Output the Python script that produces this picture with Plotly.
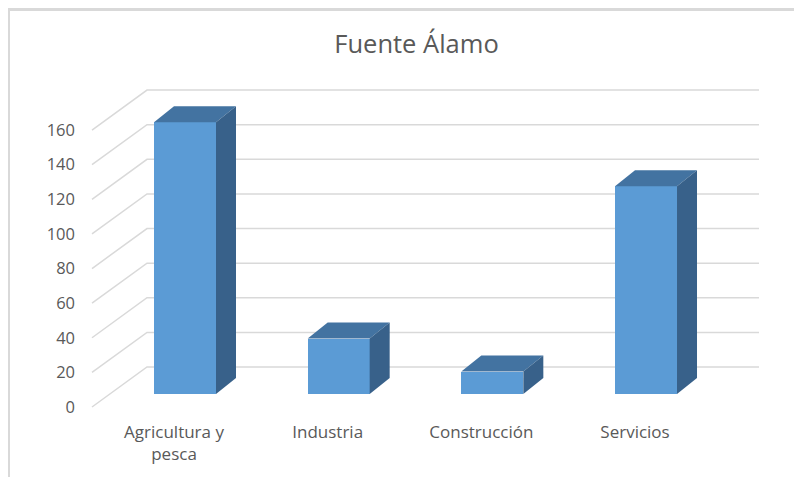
import plotly.graph_objects as go

# ---------------- data ----------------
categories = ["Agricultura y pesca", "Industria", "Construcción", "Servicios"]
category_tick_labels = ["Agricultura y<br>pesca", "Industria", "Construcción", "Servicios"]
values = [157, 32, 13, 120]
y_tick_values = [0, 20, 40, 60, 80, 100, 120, 140, 160]
title_text = "Fuente Álamo"

# ---------------- geometry (pixel calibration of the pseudo-3D look) ----------------
W, H = 802, 477
PAGE = 8                 # browser body margin offset
M_B = 68                 # bottom margin (room for category labels)
PX_X = 153.67            # pixels per category step
PX_Y = 1.731             # pixels per value unit
X0_PX = 185 - PAGE       # figure x of first bar centre (front face)
Y0_PX = 394 - PAGE       # figure y of value 0 on the bar front plane
BAR_W = 62 / PX_X        # front face width in category units
DEPTH_DX = 20 / PX_X     # bar depth, horizontal
DEPTH_DY = 16 / PX_Y     # bar depth, vertical
FLOOR_FRONT_DX = -18 / PX_X
FLOOR_FRONT_DY = -13 / PX_Y
WALL_DX = 37 / PX_X
WALL_DY = 27 / PX_Y
GRID_END_X = (759 - PAGE - X0_PX) / PX_X
GRID_START_X = (92 - PAGE - X0_PX) / PX_X
LABEL_DX = -11 / PX_X

x_range = [-X0_PX / PX_X, (W - X0_PX) / PX_X]
y_range = [-(H - M_B - Y0_PX) / PX_Y, Y0_PX / PX_Y]

FRONT = "#5B9BD5"
TOP = "#4373A1"
SIDE = "#38618A"
GRID = "#D9D9D9"
TEXT = "#595959"
FONT = "Open Sans"

xs = list(range(len(categories)))

fig = go.Figure()

# front faces
fig.add_trace(go.Bar(
    x=xs, y=values, width=BAR_W,
    marker=dict(color=FRONT, line=dict(width=0)),
    hovertext=categories, hoverinfo="text+y", showlegend=False,
))

# top and side faces computed from the values
for i, v in zip(xs, values):
    l, r = i - BAR_W / 2, i + BAR_W / 2
    fig.add_trace(go.Scatter(
        x=[l, r, r + DEPTH_DX, l + DEPTH_DX, l],
        y=[v, v, v + DEPTH_DY, v + DEPTH_DY, v],
        fill="toself", fillcolor=TOP, mode="lines",
        line=dict(width=0, color=TOP), hoverinfo="skip", showlegend=False,
    ))
    fig.add_trace(go.Scatter(
        x=[r, r, r + DEPTH_DX, r + DEPTH_DX, r],
        y=[0, v, v + DEPTH_DY, DEPTH_DY, 0],
        fill="toself", fillcolor=SIDE, mode="lines",
        line=dict(width=0, color=SIDE), hoverinfo="skip", showlegend=False,
    ))

# invisible trace to hold the front (label) axis
fig.add_trace(go.Scatter(x=[None], y=[None], yaxis="y2", showlegend=False, hoverinfo="skip"))

# gridlines: floor diagonal + back wall horizontal
x_left_back = GRID_START_X + (WALL_DX - FLOOR_FRONT_DX)
shapes = []
for t in y_tick_values:
    yf = t + FLOOR_FRONT_DY
    yb = t + WALL_DY
    shapes.append(dict(
        type="path", xref="x", yref="y", layer="below",
        path=f"M {GRID_START_X},{yf} L {x_left_back},{yb} L {GRID_END_X},{yb}",
        line=dict(color=GRID, width=1.5),
    ))

# outer chart border (only top and left visible in crop)
shapes.append(dict(
    type="rect", xref="paper", yref="paper",
    x0=(8.5 - PAGE) / W, x1=1.2, y0=-0.5, y1=1 - (9.5 - PAGE) / (H - M_B),
    line=dict(color=GRID, width=3), layer="below",
))

fig.update_layout(
    width=W, height=H,
    margin=dict(l=0, r=0, t=0, b=M_B),
    paper_bgcolor="white", plot_bgcolor="white",
    showlegend=False,
    title=dict(text=title_text, x=(416.5 - PAGE) / W, xanchor="center",
               y=1 - (44 - PAGE) / H, yanchor="middle",
               font=dict(family=FONT, size=25.5, color=TEXT)),
    xaxis=dict(range=x_range, showgrid=False, zeroline=False, showline=False, ticks="",
               tickmode="array", tickvals=[i + LABEL_DX for i in xs], ticktext=category_tick_labels,
               ticklabelstandoff=3,
               tickfont=dict(family=FONT, size=17, color=TEXT), fixedrange=True),
    yaxis=dict(range=y_range, showgrid=False, zeroline=False, showline=False,
               showticklabels=False, ticks="", fixedrange=True),
    yaxis2=dict(range=[y_range[0] - FLOOR_FRONT_DY, y_range[1] - FLOOR_FRONT_DY],
                overlaying="y", anchor="free", position=67 / W, side="left",
                showgrid=False, zeroline=False, showline=False, ticks="",
                tickmode="array", tickvals=y_tick_values,
                tickfont=dict(family=FONT, size=16.5, color=TEXT), fixedrange=True),
    shapes=shapes,
    bargap=0,
)

fig.write_html("out.html")
